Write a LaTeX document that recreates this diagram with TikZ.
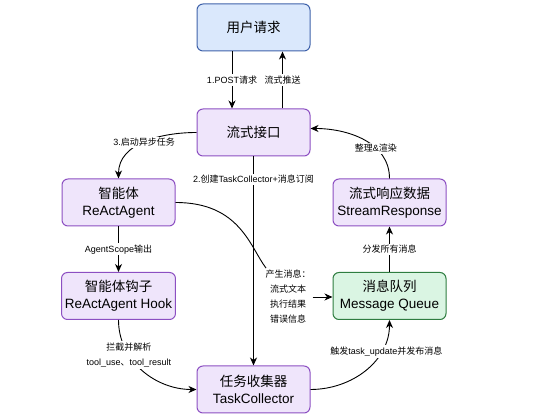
\documentclass[tikz,border=0pt]{standalone}
\usepackage{fontspec}
\setmainfont{Liberation Sans}
\newfontfamily\zhfont{Noto Sans CJK SC}
\newcommand{\zh}[1]{{\zhfont #1}}
\usetikzlibrary{arrows.meta}
\definecolor{bluefill}{HTML}{DAE8FC}
\definecolor{bluedraw}{HTML}{3F62AA}
\definecolor{purplefill}{HTML}{EFE5FB}
\definecolor{purpledraw}{HTML}{8C4FC2}
\definecolor{greenfill}{HTML}{DAF5E3}
\definecolor{greendraw}{HTML}{2E7D40}

\begin{document}
\begin{tikzpicture}[x=1pt, y=1pt,
  box/.style={draw=purpledraw, fill=purplefill, rounded corners=6pt, line width=1pt,
    minimum width=113pt, minimum height=47pt, align=center, font=\fontsize{13.5}{17}\selectfont},
  lbl/.style={fill=white, inner sep=1.5pt, align=center, font=\fontsize{9}{15}\selectfont},
  arr/.style={-{Stealth[length=8pt, width=7pt, inset=2.5pt]}, line width=0.9pt}]
\useasboundingbox (0,0) rectangle (541,417);

\node[box, draw=bluedraw, fill=bluefill] (req) at (253.5, 389.5) {\zh{用户请求}};
\node[box] (api) at (253.5, 284.5) {\zh{流式接口}};
\node[box] (agent) at (118.5, 214.5) {\zh{智能体}\\ReActAgent};
\node[box] (resp) at (389.5, 214.5) {\zh{流式响应数据}\\StreamResponse};
\node[box] (hook) at (118.5, 121) {\zh{智能体钩子}\\ReActAgent Hook};
\node[box, draw=greendraw, fill=greenfill] (queue) at (389.5, 121) {\zh{消息队列}\\Message Queue};
\node[box] (col) at (253.5, 27.5) {\zh{任务收集器}\\TaskCollector};
\node[lbl, inner sep=2pt] (msg) at (288, 120) {\zh{产生消息：}\\\zh{流式文本}\\\zh{执行结果}\\\zh{错误信息}};

\draw[arr] ([xshift=-21.5pt]req.south) -- node[lbl] {1.POST\zh{请求}} ([xshift=-21.5pt]api.north);
\draw[arr] ([xshift=29pt]api.north) -- node[lbl] {\zh{流式推送}} ([xshift=29pt]req.south);
\draw[arr] (api.west) to[out=180, in=90] node[lbl] {3.\zh{启动异步任务}} (agent.north);
\draw[arr] (api.south) -- node[lbl, pos=0.11] {2.\zh{创建}TaskCollector+\zh{消息订阅}} (col.north);
\draw[arr] (resp.north) to[out=90, in=0] node[lbl, pos=0.35] {\zh{整理}\&\zh{渲染}} ([yshift=4pt]api.east);
\draw[arr] (agent.south) -- node[lbl] {AgentScope\zh{输出}} (hook.north);
\draw[arr] (queue.north) -- node[lbl] {\zh{分发所有消息}} (resp.south);
\draw[arr] (hook.south) to[out=-90, in=180] node[lbl, pos=0.32] {\zh{拦截并解析}\\tool\_use\zh{、}tool\_result} (col.west);
\draw[arr] (col.east) to[out=0, in=-90] node[lbl, pos=0.72, xshift=5pt] {\zh{触发}task\_update\zh{并发布消息}} (queue.south);
\draw[line width=0.9pt] (agent.east) .. controls (240, 214.5) and (250, 170) .. (msg);
\draw[arr] (msg.east) -- (msg.east -| queue.west);

\end{tikzpicture}
\end{document}
